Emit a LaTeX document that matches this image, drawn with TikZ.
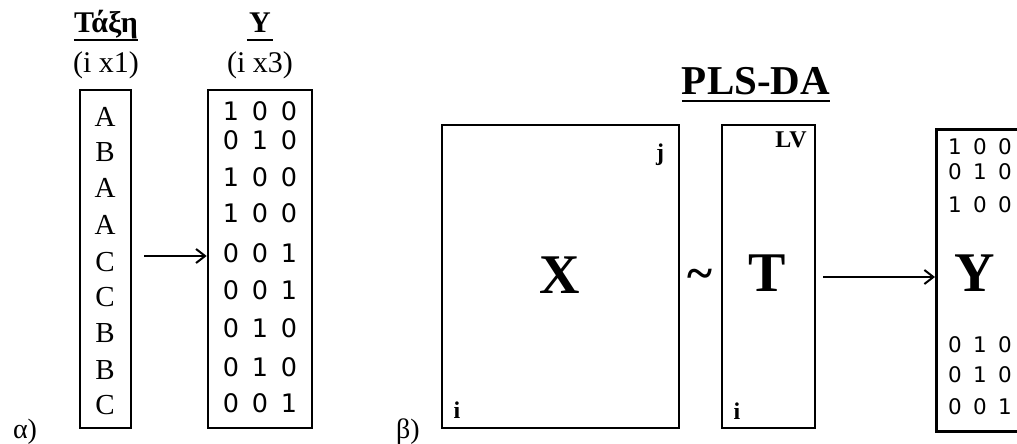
\documentclass[tikz,border=0pt]{standalone}
\usepackage{fontspec}
\setmainfont{Liberation Serif}
\newfontfamily\digitfont{DejaVu Sans}
\usetikzlibrary{arrows.meta}

% one row of a class-membership matrix: three digits on a fixed pitch
\newcommand{\mrow}[4]{\makebox[#1]{#2}\makebox[#1]{#3}\makebox[#1]{#4}}

\begin{document}
\begin{tikzpicture}[x=1pt,y=-1pt,
  matbox/.style={draw,line width=2.6pt},
  lbl/.style={inner sep=0pt,font=\fontsize{30}{32}\selectfont},
  cls/.style={inner sep=0pt,font=\fontsize{29}{30}\selectfont},
  bigdig/.style={inner sep=0pt,font=\digitfont\fontsize{25.5}{27}\selectfont},
  smalldig/.style={inner sep=0pt,font=\digitfont\fontsize{21.5}{23}\selectfont},
  bigletter/.style={inner sep=0pt,font=\bfseries\fontsize{56}{60}\selectfont},
  corner/.style={inner sep=0pt,font=\bfseries\fontsize{24}{26}\selectfont},
  uline/.style={line width=2pt},
  conn/.style={line width=2pt,-{Straight Barb[length=9pt,width=14pt,line width=2pt]}}]
\clip (0,0) rectangle (1017,444);

% ---------------- (alpha) class vector and dummy matrix ----------------
\node[lbl,font=\bfseries\fontsize{30}{32}\selectfont,anchor=base] (taxi) at (106,33) {Τάξη};
\node[lbl,anchor=base] (taxidim) at (106,72) {(i x1)};
\draw[uline] ([yshift=-7pt]taxi.base west) -- ([yshift=-7pt]taxi.base east);

\node[lbl,font=\bfseries\fontsize{30}{32}\selectfont,anchor=base] (yhead) at (260,33) {Y};
\node[lbl,anchor=base] (ydim) at (260,72) {(i x3)};
\draw[uline] ([yshift=-7pt,xshift=-2pt]yhead.base west) -- ([yshift=-7pt,xshift=2pt]yhead.base east);

\node[matbox,minimum width=51pt,minimum height=338pt,inner sep=0pt] (cvec) at (105.5,259) {};
\node[matbox,minimum width=104pt,minimum height=338pt,inner sep=0pt] (ymat) at (260,259) {};

\foreach \c/\yy [count=\k] in {A/117,B/152,A/188,A/225,C/262,C/297,B/333,B/370,C/405}
  \node[cls] (c\k) at (105,\yy) {\c};

\foreach \a/\b/\cc/\yy [count=\k] in {1/0/0/111,0/1/0/140,1/0/0/177,1/0/0/213,0/0/1/253,0/0/1/290,0/1/0/328,0/1/0/367,0/0/1/403}
  \node[bigdig] (y\k) at (260,\yy) {\mrow{29pt}{\a}{\b}{\cc}};

\coordinate (a1) at (144,256);
\draw[conn] (a1) -- (ymat.west |- a1);

\node[lbl,font=\fontsize{28}{30}\selectfont,anchor=base] (alpha) at (25,438) {α)};

% ---------------- (beta) PLS-DA scheme ----------------
\node[inner sep=0pt,font=\bfseries\fontsize{41}{44}\selectfont,anchor=base] (plsda) at (756,95) {PLS-DA};
\draw[line width=2.6pt] ([yshift=-6pt]plsda.base west) -- ([yshift=-6pt]plsda.base east);

\node[matbox,minimum width=237pt,minimum height=303pt,inner sep=0pt] (xmat) at (560.5,276.5) {};
\node[bigletter] (xl) at (560,275) {X};
\node[corner,anchor=base] (xj) at (660,160) {j};
\node[corner,anchor=base] (xi) at (457,418) {i};

\node[inner sep=0pt,font=\bfseries\fontsize{48}{50}\selectfont] (tilde) at (700,279) {\char`\~};

\node[matbox,minimum width=93pt,minimum height=303pt,inner sep=0pt] (tmat) at (768.5,276.5) {};
\node[bigletter] (tl) at (767,273) {T};
\node[corner,anchor=base] (tlv) at (791,147) {LV};
\node[corner,anchor=base] (ti) at (737,419) {i};

\node[matbox,minimum width=110pt,minimum height=302pt,inner sep=0pt,anchor=north west] (ypred) at (935,128) {};
\node[bigletter] (yl) at (975,273) {Y};
\foreach \a/\b/\cc/\yy [count=\k] in {1/0/0/147,0/1/0/172,1/0/0/205,0/1/0/345,0/1/0/375,0/0/1/407}
  \node[smalldig] (p\k) at (980,\yy) {\mrow{25pt}{\a}{\b}{\cc}};

\coordinate (a2) at (823,277);
\draw[conn] (a2) -- (ypred.west |- a2);

\node[lbl,font=\fontsize{28}{30}\selectfont,anchor=base] (beta) at (408,438) {β)};
\end{tikzpicture}
\end{document}
